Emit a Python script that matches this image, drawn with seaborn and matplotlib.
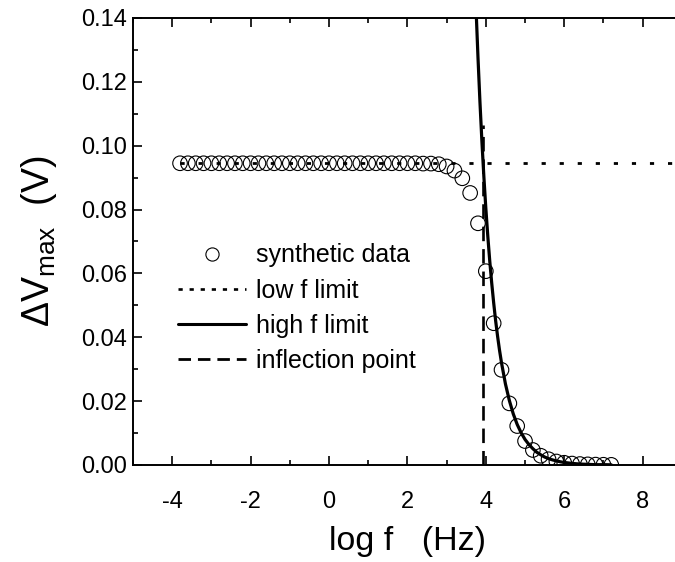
import numpy as np
import pandas as pd
import matplotlib
matplotlib.use("Agg")
import matplotlib.pyplot as plt
from matplotlib.lines import Line2D
import seaborn as sns

# ---- data ----
log_f = [-3.8, -3.6, -3.4, -3.2, -3.0, -2.8, -2.6, -2.4, -2.2, -2.0,
         -1.8, -1.6, -1.4, -1.2, -1.0, -0.8, -0.6, -0.4, -0.2, 0.0,
         0.2, 0.4, 0.6, 0.8, 1.0, 1.2, 1.4, 1.6, 1.8, 2.0,
         2.2, 2.4, 2.6, 2.8, 3.0, 3.2, 3.4, 3.6, 3.8, 4.0,
         4.2, 4.4, 4.6, 4.8, 5.0, 5.2, 5.4, 5.6, 5.8, 6.0,
         6.2, 6.4, 6.6, 6.8, 7.0, 7.2]
dv_data = [0.0945, 0.0945, 0.0945, 0.0945, 0.0945, 0.0945, 0.0945, 0.0945, 0.0945, 0.0945,
           0.0945, 0.0945, 0.0945, 0.0945, 0.0945, 0.0945, 0.0945, 0.0945, 0.0945, 0.0945,
           0.0945, 0.0945, 0.0945, 0.0945, 0.0945, 0.0945, 0.0945, 0.0945, 0.0945, 0.0945,
           0.0945, 0.0944, 0.0944, 0.0942, 0.0935, 0.0922, 0.0898, 0.0852, 0.0757, 0.0607,
           0.0444, 0.0298, 0.0193, 0.0122, 0.0075, 0.0047, 0.0029, 0.0018, 0.0011, 0.0007,
           0.00045, 0.0003, 0.0002, 0.00012, 0.00008, 0.00005]

low_x = [-3.8, 8.8]
low_y = [0.0945, 0.0945]

high_x = [3.76, 3.80, 3.85, 3.90, 3.95, 4.00, 4.05, 4.10, 4.15, 4.20, 4.25, 4.30, 4.35, 4.40,
          4.50, 4.60, 4.70, 4.80, 4.90, 5.00, 5.10, 5.20, 5.30, 5.40, 5.50,
          5.60, 5.70, 5.80, 5.90, 6.00, 6.20, 6.40, 6.60, 6.80, 7.00, 7.20]
high_y = [0.1400, 0.1276, 0.1137, 0.1013, 0.0903, 0.0804, 0.0717, 0.0639, 0.0570, 0.0508,
          0.0452, 0.0403, 0.0359, 0.0320,
          0.0254, 0.0202, 0.0160, 0.0127, 0.0101, 0.0080, 0.0064, 0.0051, 0.0040, 0.0032, 0.0025,
          0.0020, 0.0016, 0.0013, 0.0010, 0.0008, 0.0005, 0.0003, 0.0002, 0.0001, 0.0001, 0.00006]

infl_x = [3.92, 3.92]
infl_y = [0.0, 0.1065]

legend_labels = ["synthetic data", "low f limit", "high f limit", "inflection point"]

# ---- style ----
sns.set_theme(style="ticks")
plt.rcParams["font.family"] = ["Liberation Sans", "DejaVu Sans"]
plt.rcParams["mathtext.fontset"] = "custom"
plt.rcParams["mathtext.rm"] = "Liberation Sans"
plt.rcParams["mathtext.it"] = "Liberation Sans:italic"
plt.rcParams["mathtext.bf"] = "Liberation Sans:bold"
plt.rcParams["axes.unicode_minus"] = False
for key in ["text.color", "axes.labelcolor", "xtick.color", "ytick.color", "axes.edgecolor"]:
    plt.rcParams[key] = "black"

fig = plt.figure(figsize=(6.75, 5.62), dpi=100)
ax = fig.add_axes([0.19704, 0.1726, 0.8131, 0.7954])

df = pd.DataFrame({"log_f": log_f, "dv": dv_data})

dotted = (0, (1.5, 5.0))
dashed = (0, (5.5, 3.0))

sns.lineplot(x=low_x, y=low_y, ax=ax, color="black", linewidth=2.0,
             linestyle=dotted, zorder=3, estimator=None, sort=False)
sns.lineplot(x=high_x, y=high_y, ax=ax, color="black", linewidth=2.3, zorder=2,
             estimator=None, sort=False)
sns.lineplot(x=infl_x, y=infl_y, ax=ax, color="black", linewidth=1.9,
             linestyle=dashed, zorder=2, estimator=None, sort=False)
sns.scatterplot(data=df, x="log_f", y="dv", ax=ax, s=110, marker="o",
                facecolor="none", edgecolor="black", linewidth=0.8, zorder=1)

ax.set_xlim(-5, 9)
ax.set_ylim(0, 0.14)
ax.set_xticks([-4, -2, 0, 2, 4, 6, 8])
ax.set_xticks(np.arange(-5, 9.5, 1), minor=True)
ax.set_yticks([0.00, 0.02, 0.04, 0.06, 0.08, 0.10, 0.12, 0.14])
ax.set_yticks(np.arange(0.01, 0.14, 0.02), minor=True)
ax.set_yticklabels(["0.00", "0.02", "0.04", "0.06", "0.08", "0.10", "0.12", "0.14"])

ax.tick_params(which="both", direction="in", top=True, right=False, width=1.2)
ax.tick_params(which="major", length=6.5, labelsize=17)
ax.tick_params(axis="x", which="major", pad=19)
ax.tick_params(axis="y", which="major", pad=4)
ax.tick_params(which="minor", length=3.5)
for sp in ax.spines.values():
    sp.set_linewidth(1.4)

ax.set_xlabel("log f   (Hz)", fontsize=24.5, labelpad=9)
ax.set_ylabel(r"$\mathregular{\Delta V_{max}}$  (V)", fontsize=27, labelpad=16)

handles = [
    Line2D([], [], marker="o", linestyle="none", markerfacecolor="none",
           markeredgecolor="black", markersize=9.5, markeredgewidth=0.8),
    Line2D([], [], color="black", linewidth=1.9, linestyle=(0, (1.6, 2.6))),
    Line2D([], [], color="black", linewidth=2.2),
    Line2D([], [], color="black", linewidth=2.0, linestyle=(0, (4.5, 2.5))),
]
leg = ax.legend(handles, legend_labels, loc="upper left",
                bbox_to_anchor=(0.082, 0.496), frameon=False, fontsize=18,
                handlelength=2.7, handletextpad=0.4, labelspacing=0.45,
                borderpad=0, borderaxespad=0)

fig.savefig("out.png", dpi=100)
